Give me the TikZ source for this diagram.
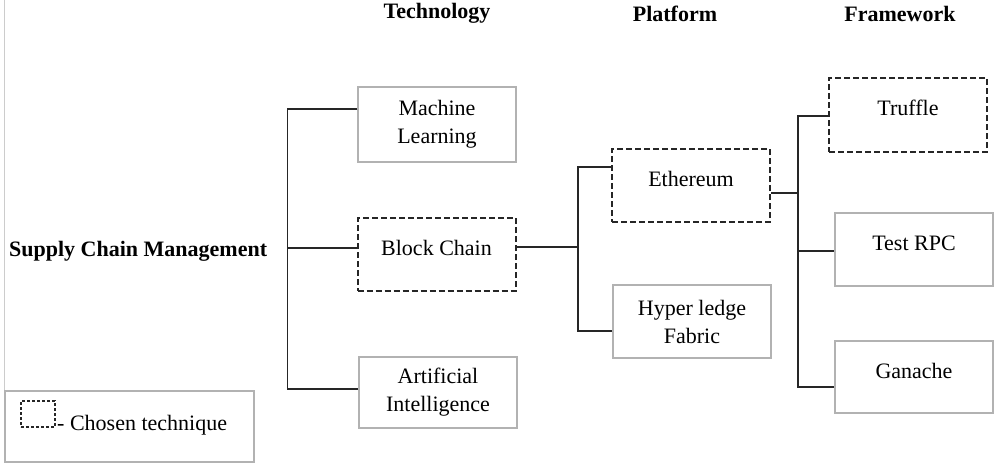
\documentclass[tikz,border=0pt]{standalone}
\usepackage{fontspec}
\setmainfont{Liberation Serif}
\begin{document}
\begin{tikzpicture}[x=1pt,y=-1pt,
  txt/.style={font=\fontsize{22}{28}\selectfont, inner sep=0pt, align=center},
  hdr/.style={font=\fontsize{22}{28}\selectfont\bfseries, inner sep=0pt},
  gbox/.style={draw=black!30, line width=1.5pt, inner sep=0pt, minimum width=158pt, minimum height=73pt},
  dbox/.style={draw=black!85, line width=2pt, dash pattern=on 6pt off 3pt, inner sep=0pt, minimum width=158pt, minimum height=73pt},
  conn/.style={draw=black!85, line width=1.5pt}
]
\useasboundingbox (0,0) rectangle (1000,466);

% headers
\node[hdr] (h1) at (437,13.5) {Technology};
\node[hdr] (h2) at (675,13.5) {Platform};
\node[hdr] (h3) at (900,13.5) {Framework};

% root
\node[txt, font=\fontsize{22}{28}\selectfont\bfseries, anchor=west] (scm) at (9,251) {Supply Chain Management};

% technology boxes
\node[gbox, minimum height=75pt] (ml) at (437,124.5) {};
\node[txt] (mlt) at (ml.center) {Machine\\Learning};
\node[dbox] (bc) at (436.5,254.5) {};
\node[txt] (bct) at ([yshift=6.5pt]bc.center) {Block Chain};
\node[gbox, minimum height=71pt] (ai) at (438,392.5) {};
\node[txt] (ait) at (ai.center) {Artificial\\Intelligence};

% platform boxes
\node[dbox] (eth) at (691,185.5) {};
\node[txt] (etht) at ([yshift=6.5pt]eth.center) {Ethereum};
\node[gbox] (hyp) at (692,321.5) {};
\node[txt] (hypt) at (hyp.center) {Hyper ledge\\Fabric};

% framework boxes
\node[dbox, minimum height=74pt] (tru) at (908,115) {};
\node[txt] (trut) at ([yshift=7pt]tru.center) {Truffle};
\node[gbox] (rpc) at (914,249.5) {};
\node[txt] (rpct) at ([yshift=6.5pt]rpc.center) {Test RPC};
\node[gbox, minimum height=72pt] (gan) at (914,377) {};
\node[txt] (gant) at ([yshift=6pt]gan.center) {Ganache};

% connectors: technology bracket
\coordinate (s1) at (287.5,109);
\coordinate (s2) at (287.5,248);
\coordinate (s3) at (287.5,389);
\draw[conn] (ml.west |- s1) -- (s1) -- (s3) -- (ai.west |- s3);
\draw[conn] (s2) -- (bc.west |- s2);

% platform bracket
\coordinate (p0) at (578,247);
\coordinate (p1) at (578,167);
\coordinate (p2) at (578,331);
\draw[conn] (bc.east |- p0) -- (p0);
\draw[conn] (eth.west |- p1) -- (p1) -- (p2) -- (hyp.west |- p2);

% framework bracket
\coordinate (f0) at (798,193);
\coordinate (f1) at (798,116);
\coordinate (f2) at (798,251);
\coordinate (f3) at (798,387);
\draw[conn] (eth.east |- f0) -- (f0);
\draw[conn] (tru.west |- f1) -- (f1) -- (f3) -- (gan.west |- f3);
\draw[conn] (f2) -- (rpc.west |- f2);

% left rule and legend
\draw[draw=black!20, line width=1pt] (4,0) -- (4,391);
\node[draw=black!30, line width=1.2pt, inner sep=0pt, minimum width=249pt, minimum height=71pt] (leg) at (129.5,426.5) {};
\node[draw=black!85, line width=1.3pt, dash pattern=on 3pt off 2pt, inner sep=0pt, minimum width=34pt, minimum height=26pt] (legbox) at (38,414) {};
\node[txt, anchor=west] (legt) at (57,425) {- Chosen technique};
\end{tikzpicture}
\end{document}
